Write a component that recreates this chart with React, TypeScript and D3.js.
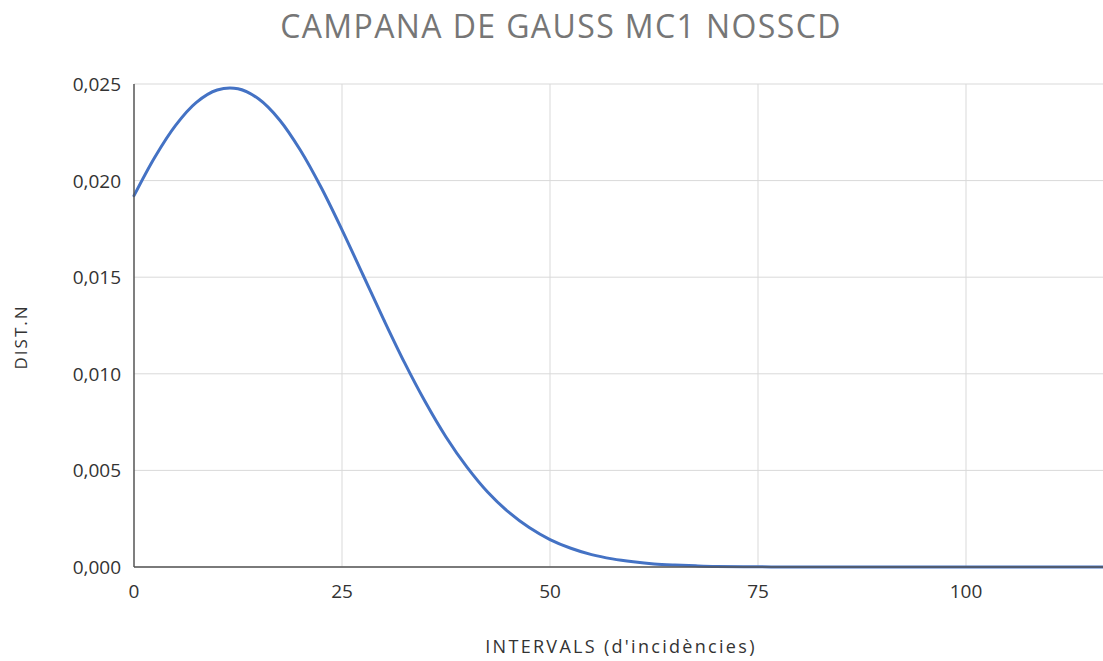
import React from "react";
import * as d3 from "d3";

// Normal distribution curve sampled along the incidence intervals
const xValues = [
  0, 2.5, 5, 7.5, 10, 12.5, 15, 17.5, 20, 22.5, 25, 27.5, 30, 32.5, 35, 37.5,
  40, 42.5, 45, 47.5, 50, 52.5, 55, 57.5, 60, 62.5, 65, 67.5, 70, 75, 80, 90,
  100, 110, 120,
];
const densityValues = [
  0.01922, 0.02121, 0.02286, 0.02405, 0.02469, 0.02475, 0.02422, 0.02314,
  0.02157, 0.01964, 0.01745, 0.01514, 0.01282, 0.01059, 0.00855, 0.00673,
  0.00518, 0.00388, 0.00285, 0.00204, 0.00142, 0.00097, 0.00064, 0.00042,
  0.00027, 0.00016, 0.0001, 0.00006, 0.00003, 0.00001, 0.0, 0.0, 0.0, 0.0,
  0.0,
];
const xTicks = [0, 25, 50, 75, 100];
const yTicks = [0, 0.005, 0.01, 0.015, 0.02, 0.025];

const title = "CAMPANA DE GAUSS MC1 NOSSCD";
const xTitle = "INTERVALS (d'incidències)";
const yTitle = "DIST.N";

const W = 1103;
const H = 661;
const FONT = "'Open Sans', Lato, sans-serif";

export default function App() {
  const left = 134;
  const top = 84;
  const bottom = 567;
  const x = d3.scaleLinear().domain([0, 125]).range([left, left + 125 * 8.32]);
  const y = d3.scaleLinear().domain([0, 0.025]).range([bottom, top]);
  const plotRight = W;

  const points: [number, number][] = xValues.map((v, i) => [v, densityValues[i]]);
  const line = d3
    .line<[number, number]>()
    .x((d) => x(d[0]))
    .y((d) => Math.min(y(d[1]), bottom))
    .curve(d3.curveCatmullRom.alpha(0.5));

  const fmt = (v: number) => v.toFixed(3).replace(".", ",");

  return (
    <svg
      width={W}
      height={H}
      style={{ position: "absolute", left: 0, top: 0, background: "#fff" }}
      fontFamily={FONT}
    >
      <text
        x={561}
        y={38}
        textAnchor="middle"
        fontSize={32}
        fill="#767676"
        letterSpacing={1.4}
      >
        {title}
      </text>

      {/* horizontal gridlines */}
      {yTicks.map((t) => (
        <line
          key={"gy" + t}
          x1={left}
          x2={plotRight}
          y1={y(t)}
          y2={y(t)}
          stroke="#d9d9d9"
          strokeWidth={1}
        />
      ))}
      {/* vertical gridlines */}
      {xTicks
        .filter((t) => t > 0)
        .map((t) => (
          <line
            key={"gx" + t}
            x1={x(t)}
            x2={x(t)}
            y1={top}
            y2={bottom}
            stroke="#d9d9d9"
            strokeWidth={1}
          />
        ))}

      {/* y tick labels */}
      {yTicks.map((t) => (
        <text
          key={"ty" + t}
          x={121}
          y={y(t) + 7}
          textAnchor="end"
          fontSize={19}
          fill="#333"
        >
          {fmt(t)}
        </text>
      ))}
      {/* x tick labels */}
      {xTicks.map((t) => (
        <text
          key={"tx" + t}
          x={x(t)}
          y={598}
          textAnchor="middle"
          fontSize={19}
          fill="#333"
        >
          {t}
        </text>
      ))}

      <path
        d={line(points) ?? ""}
        fill="none"
        stroke="#4472c4"
        strokeWidth={3}
        strokeLinejoin="round"
        strokeLinecap="round"
      />

      {/* axes */}
      <line x1={left} x2={left} y1={top} y2={bottom} stroke="#555" strokeWidth={1.5} />
      <line x1={left} x2={plotRight} y1={bottom} y2={bottom} stroke="#555" strokeWidth={1.5} />

      <text
        x={621}
        y={653}
        textAnchor="middle"
        fontSize={18}
        fill="#333"
        letterSpacing={2.3}
      >
        {xTitle}
      </text>
      <text
        transform={`translate(27, 337) rotate(-90)`}
        textAnchor="middle"
        fontSize={17}
        fill="#333"
        letterSpacing={2}
      >
        {yTitle}
      </text>
    </svg>
  );
}
